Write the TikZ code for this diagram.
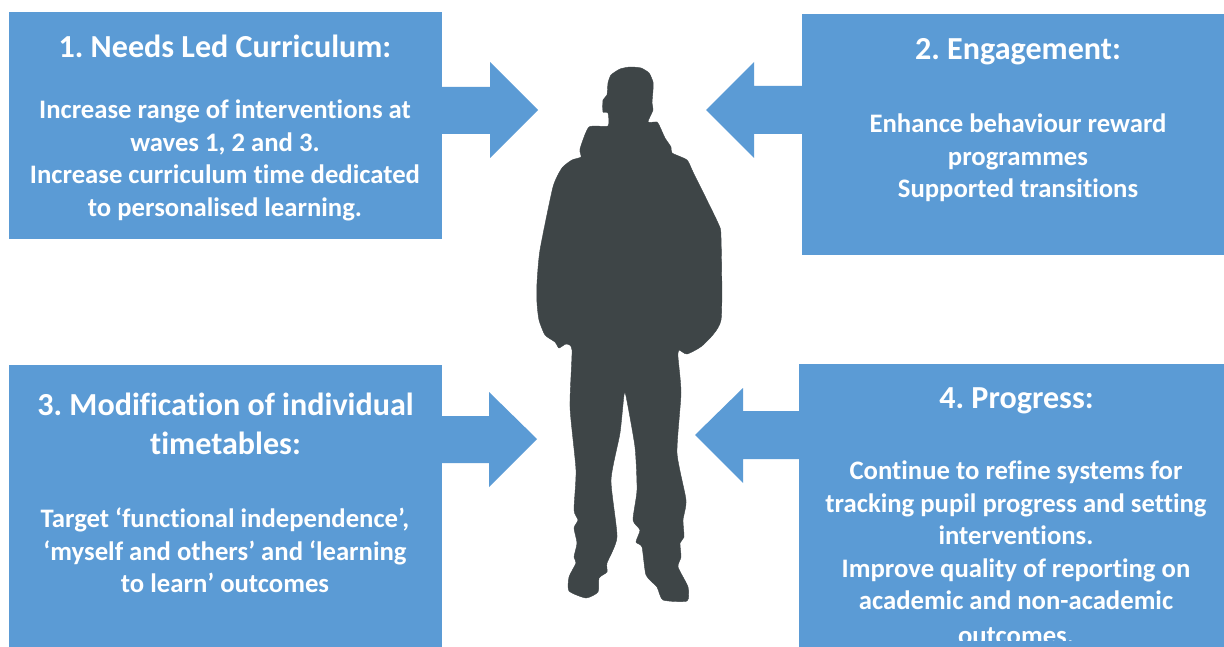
\documentclass[tikz,border=0pt]{standalone}
\usepackage{fontspec}
\setmainfont{Carlito}[Ligatures=NoCommon]
\frenchspacing
\tikzset{
  panel/.style={fill=panelblue,draw=none,inner sep=0pt,outer sep=0pt},
  blockarrow/.style={fill=panelblue,draw=none},
  figure shape/.style={fill=figgrey,draw=figgrey,line width=0.4pt,line join=round},
  headtext/.style={text=white,inner sep=0pt,align=center,anchor=north,font=\fontsize{32.1}{38.4}\selectfont\bfseries},
  bodytext/.style={text=white,inner sep=0pt,align=center,anchor=north,font=\fontsize{26.7}{32.4}\selectfont\bfseries}
}
\definecolor{panelblue}{HTML}{5B9BD5}
\definecolor{figgrey}{HTML}{3E4547}
\begin{document}
\begin{tikzpicture}[x=1pt,y=-1pt]
\useasboundingbox (0,0) rectangle (1224,647);
\clip (0,0) rectangle (1224,647);
\fill[white] (0,0) rectangle (1224,647);
% panels
\fill[panel] (9,12) rectangle (442,239);
\fill[panel] (802,14) rectangle (1224,255);
\fill[panel] (9,365) rectangle (442,647);
\fill[panel] (799,364) rectangle (1224,647);
% block arrows
\fill[blockarrow] (442,87) -- (490,87) -- (490,62) -- (538,110) -- (490,158) -- (490,134) -- (442,134) -- cycle;
\fill[blockarrow] (802,86) -- (754,86) -- (754,62) -- (706,110) -- (754,158) -- (754,134) -- (802,134) -- cycle;
\fill[blockarrow] (442,416) -- (489,416) -- (489,392) -- (537,439) -- (489,487) -- (489,463) -- (442,463) -- cycle;
\fill[blockarrow] (799,411) -- (743,411) -- (743,388) -- (695,435) -- (743,483) -- (743,459) -- (799,459) -- cycle;
% silhouette
\filldraw[figure shape] plot[smooth cycle,tension=0.35] coordinates {
(608,83)(611,75)(620,69)(630,67)(641,68)(649,73)(653,82)(653,90)(652,103)(653,110)(648,122)
(657,122)(660,127)(665,138)(671,147)(672,153)(687,160)(693,172)(718,223)(721,237)(721,320)
(703,345)(687,354)(679,350)(678,357)(681,393)(677,453)(686,500)(683,520)(684,537)(680,543)
(681,557)(678,567)(688,587)(687,601)(663,600)(657,587)(646,575)(642,547)(636,542)(640,530)
(633,520)(637,490)(635,447)(626,396)(624,395)(620,433)(611,480)(617,537)(607,563)(607,572)
(599,578)(598,592)(586,598)(569,591)(569,577)(576,563)(574,557)(577,543)(574,528)(578,520)
(574,510)(576,470)(570,407)(572,350)(566,344)(559,348)(555,342)(545,335)(539,320)(537,303)
(537,283)(540,250)(553,187)(562,168)(572,160)(581,157)(580,149)(589,127)(608,126)(608,113)
(603,112)(603,100)(607,95)};
% texts
\node[headtext] (h1) at (225,35) {1. Needs Led Curriculum:};
\node[bodytext] (b1) at (225,100) {Increase range of interventions at\\waves 1, 2 and 3.\\Increase curriculum time dedicated\\to personalised learning.};
\node[headtext] (h2) at (1018,38) {2. Engagement:};
\node[bodytext] (b2) at (1018,114) {Enhance behaviour reward\\programmes\\Supported transitions};
\node[headtext] (h3) at (225.5,393) {3. Modification of individual\\timetables:};
\node[bodytext] (b3) at (225,508) {Target ‘functional independence’,\\‘myself and others’ and ‘learning\\to learn’ outcomes};
\node[headtext] (h4) at (1016.5,387) {4. Progress:};
\begin{scope}
\clip (799,364) rectangle (1224,640);
\node[bodytext] (b4) at (1016,461) {Continue to refine systems for\\tracking pupil progress and setting\\interventions.\\Improve quality of reporting on\\academic and non-academic\\[2.5pt]outcomes.};
\end{scope}
\end{tikzpicture}
\end{document}
